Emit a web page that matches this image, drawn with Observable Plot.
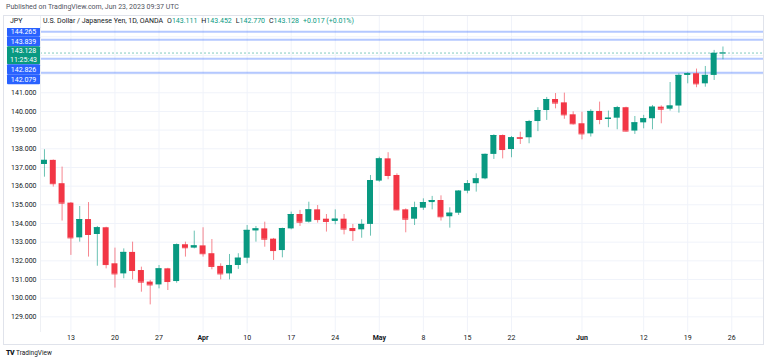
<!DOCTYPE html>
<html><head><meta charset="utf-8">
<script src="https://cdn.jsdelivr.net/npm/d3@7"></script>
<script src="https://cdn.jsdelivr.net/npm/@observablehq/plot@0.6"></script>
<style>
body{margin:0;background:#fff;font-family:Roboto,"Liberation Sans",sans-serif;color:#131722;}
#wrap{position:relative;width:768px;height:364px;overflow:hidden;background:#fff;}
#pub{position:absolute;left:6px;top:3px;font-size:7px;color:#50535e;white-space:nowrap;}
#frame{position:absolute;left:3px;top:15px;width:761px;height:330px;border:1px solid #e0e3eb;box-sizing:border-box;}
#chart{position:absolute;left:0;top:16px;}
#jpy{position:absolute;left:4px;top:16px;width:36px;height:12px;background:#fff;font-size:7px;line-height:10px;padding-left:6px;box-sizing:border-box;}
#legend{position:absolute;left:43px;top:16px;font-size:7px;line-height:10px;white-space:nowrap;}
#legend .v{color:#089981;}
#legend .k{margin-left:4px;}
#foot{position:absolute;left:6px;top:349px;font-size:6.5px;white-space:nowrap;color:#131722;}
#foot b{font-weight:900;letter-spacing:-0.5px;margin-right:2px;font-size:7px;}
</style></head><body><div id="wrap">
<div id="pub">Published on TradingView.com, Jun 23, 2023 09:37 UTC</div>
<div id="frame"></div>
<div id="chart"></div>
<div id="jpy">JPY</div>
<div id="legend">U.S. Dollar / Japanese Yen, 1D, OANDA<span class="k">O</span><span class="v">143.111</span><span class="k">H</span><span class="v">143.452</span><span class="k">L</span><span class="v">142.770</span><span class="k">C</span><span class="v">143.128</span><span class="v" style="margin-left:4px">+0.017 (+0.01%)</span></div>
<div id="foot"><b>TV</b>TradingView</div>
</div>
<script>
const dates = ["2023-03-08","2023-03-09","2023-03-10","2023-03-13","2023-03-14","2023-03-15","2023-03-16","2023-03-17","2023-03-20","2023-03-21","2023-03-22","2023-03-23","2023-03-24","2023-03-27","2023-03-28","2023-03-29","2023-03-30","2023-03-31","2023-04-03","2023-04-04","2023-04-05","2023-04-06","2023-04-07","2023-04-10","2023-04-11","2023-04-12","2023-04-13","2023-04-14","2023-04-17","2023-04-18","2023-04-19","2023-04-20","2023-04-21","2023-04-24","2023-04-25","2023-04-26","2023-04-27","2023-04-28","2023-05-01","2023-05-02","2023-05-03","2023-05-04","2023-05-05","2023-05-08","2023-05-09","2023-05-10","2023-05-11","2023-05-12","2023-05-15","2023-05-16","2023-05-17","2023-05-18","2023-05-19","2023-05-22","2023-05-23","2023-05-24","2023-05-25","2023-05-26","2023-05-29","2023-05-30","2023-05-31","2023-06-01","2023-06-02","2023-06-05","2023-06-06","2023-06-07","2023-06-08","2023-06-09","2023-06-12","2023-06-13","2023-06-14","2023-06-15","2023-06-16","2023-06-19","2023-06-20","2023-06-21","2023-06-22","2023-06-23"];
const open = [137.16,137.38,136.13,135.09,133.23,134.21,133.41,133.77,131.84,131.30,132.45,131.48,130.86,130.71,131.57,130.89,132.86,132.68,132.80,132.38,131.70,131.30,131.75,132.14,133.60,133.71,133.16,132.55,133.71,134.48,134.07,134.73,134.23,134.11,134.23,133.73,133.66,133.95,136.27,137.46,136.57,134.73,134.23,134.82,135.12,135.23,134.36,134.55,135.73,136.13,136.39,137.70,138.71,137.96,138.60,138.59,139.46,140.05,140.64,140.46,139.82,139.34,138.80,140.00,139.57,139.64,140.20,138.95,139.39,139.61,140.23,140.12,140.29,141.93,142.02,141.48,141.93,143.111];
const high = [137.95,137.40,137.02,135.12,134.91,135.12,133.84,133.80,132.68,132.64,133.00,131.66,130.95,131.75,131.60,132.90,133.00,133.59,133.77,133.14,131.84,132.34,132.38,133.89,133.84,134.07,133.20,133.75,134.61,134.70,135.14,134.96,134.48,134.73,134.48,133.95,134.20,136.57,137.55,137.79,136.66,134.78,135.14,135.32,135.45,135.48,134.84,135.76,136.30,136.66,137.72,138.75,138.74,138.66,138.89,139.52,140.20,140.75,140.96,140.98,139.98,139.96,140.09,140.50,140.02,140.27,140.23,139.73,139.79,140.32,140.30,141.55,142.02,142.07,142.27,142.41,143.27,143.452];
const low = [136.48,135.95,134.13,132.29,133.00,132.20,131.71,131.57,130.54,131.04,130.98,130.32,129.64,130.50,130.41,130.80,132.20,132.64,132.20,131.52,130.98,130.98,131.54,131.84,133.00,132.73,132.02,132.16,133.66,133.84,134.02,134.02,133.54,133.93,133.39,133.04,133.21,133.32,136.21,136.34,134.70,133.50,133.89,134.70,134.73,134.13,133.75,134.43,135.59,135.68,136.34,137.43,137.46,137.52,138.23,138.27,138.92,139.52,140.14,139.58,139.27,138.48,138.63,139.29,139.13,139.02,138.90,138.77,139.07,139.02,139.34,140.02,139.91,141.48,141.27,141.30,141.66,142.770];
const close = [137.38,136.13,135.09,133.23,134.21,133.41,133.77,131.80,131.30,132.45,131.48,130.86,130.71,131.57,130.89,132.86,132.70,132.80,132.38,131.70,131.30,131.75,132.14,133.63,133.71,133.16,132.55,133.73,134.48,134.07,134.73,134.21,134.11,134.23,133.70,133.62,133.95,136.30,137.46,136.57,134.73,134.23,134.84,135.12,135.23,134.36,134.55,135.73,136.13,136.39,137.70,138.71,137.96,138.59,138.56,139.46,140.05,140.64,140.45,139.82,139.34,138.80,140.00,139.57,139.64,140.20,138.95,139.39,139.61,140.23,140.12,140.29,141.93,142.02,141.48,141.93,143.111,143.128];

const tickDates = ["2023-03-13","2023-03-20","2023-03-27","2023-04-03","2023-04-10","2023-04-17","2023-04-24","2023-05-01","2023-05-08","2023-05-15","2023-05-22","2023-06-01","2023-06-12","2023-06-19","2023-06-26"];
const tickLabels = ["13","20","27","Apr","10","17","24","May","8","15","22","Jun","12","19","26"];
const priceTicks = [129,130,131,132,133,134,135,136,137,138,139,140,141];
const gridPrices = [129,130,131,132,133,134,135,136,137,138,139,140,141,142,143,144];

const levelPrices = [144.265,143.839,142.826,142.079];
const levelLabels = ["144.265","143.839","142.826","142.079"];
const lastPrice = 143.128;
const lastLabel = "143.128";
const countdown = "11:25:43";

const UP = "#089981", DOWN = "#f23645";

// trading-day index (weekdays) from the first date
const t0 = new Date(dates[0] + "T00:00:00Z");
function tIndex(ds){
  const t = new Date(ds + "T00:00:00Z");
  let n = 0;
  for (let d = new Date(t0); d < t; d.setUTCDate(d.getUTCDate()+1)){
    const wd = d.getUTCDay();
    if (wd !== 0 && wd !== 6) n++;
  }
  return n;
}
const candles = dates.map((d,k)=>({i:tIndex(d), o:open[k], h:high[k], l:low[k], c:close[k], col: close[k]>=open[k]?UP:DOWN}));
const ticks = tickDates.map((d,k)=>({i:tIndex(d), label:tickLabels[k], month: isNaN(+tickLabels[k])}));
const numTicks = ticks.filter(t=>!t.month);
const monTicks = ticks.filter(t=>t.month);
const half = 0.34;

const chart = Plot.plot({
  width: 768, height: 330,
  marginLeft: 40, marginRight: 5, marginTop: 0, marginBottom: 14,
  style: {fontFamily: "Roboto, 'Liberation Sans', sans-serif", background: "transparent", overflow: "visible"},
  x: {type: "linear", domain: [-0.45, 81.6], axis: null, label: null},
  y: {domain: [128, 145], range: [319, 1.6], axis: null, label: null},
  color: {type: "identity"},
  marks: [
    Plot.gridY(gridPrices, {stroke: "#f0f3fa", strokeOpacity: 1}),
    Plot.gridX(ticks.map(t=>t.i), {stroke: "#f0f3fa", strokeOpacity: 1}),
    Plot.axisY(priceTicks, {anchor: "left", label: null, tickSize: 0, tickPadding: 4, tickFormat: d=>d.toFixed(3), fontSize: 7, fill: "#131722"}),
    Plot.axisX(numTicks.map(t=>t.i), {anchor: "bottom", label: null, tickSize: 0, tickPadding: 3, fontSize: 7, fill: "#131722", tickFormat: v => numTicks.find(t=>t.i===v).label}),
    Plot.axisX(monTicks.map(t=>t.i), {anchor: "bottom", label: null, tickSize: 0, tickPadding: 3, fontSize: 7, fontWeight: "bold", fill: "#131722", tickFormat: v => monTicks.find(t=>t.i===v).label}),
    Plot.ruleY(levelPrices, {stroke: "#2962ff", strokeOpacity: 0.35, strokeWidth: 2}),
    Plot.ruleY([lastPrice], {stroke: UP, strokeOpacity: 0.5, strokeDasharray: "2,2"}),
    Plot.ruleX(candles, {x: "i", y1: "l", y2: "h", stroke: "col", strokeOpacity: 0.6}),
    Plot.rect(candles, {x1: d=>d.i-half, x2: d=>d.i+half, y1: d=>Math.min(d.o,d.c), y2: d=>Math.max(d.o,d.c), fill: "col"}),
    Plot.ruleY(candles, {y: "c", x1: d=>d.i-half, x2: d=>d.i+half, stroke: "col"}),
  ]
});
document.getElementById("chart").appendChild(chart);

// price-scale labels, placed with the plot's own y scale and stacked to avoid overlap
const ys = chart.scale("y");
const svg = d3.select(chart);
svg.append("line").attr("x1",40.5).attr("x2",40.5).attr("y1",0).attr("y2",316).attr("stroke","#eef0f4");
let labs = levelPrices.map((p,k)=>({p, text: levelLabels[k], fill: "#2962ff", h: 10}));
labs.push({p: lastPrice, text: lastLabel, sub: countdown, fill: UP, h: 18});
labs.sort((a,b)=>b.p-a.p);
let prevBottom = -Infinity;
for (const L of labs){
  const cy = Math.max(ys.apply(L.p), prevBottom + L.h/2);
  L.cy = cy; prevBottom = cy + L.h/2;
}
const g = svg.append("g").attr("font-size", 7).attr("fill", "#fff").attr("text-anchor", "middle");
for (const L of labs){
  g.append("rect").attr("x", 7).attr("y", L.cy - L.h/2).attr("width", 33).attr("height", L.h).attr("rx", 1).attr("fill", L.fill);
  if (L.sub){
    g.append("text").attr("x", 23.5).attr("y", L.cy - 4.5).attr("dy", "0.35em").attr("fill","#fff").text(L.text);
    g.append("text").attr("x", 23.5).attr("y", L.cy + 4.5).attr("dy", "0.35em").attr("fill","#fff").text(L.sub);
  } else {
    g.append("text").attr("x", 23.5).attr("y", L.cy).attr("dy", "0.35em").attr("fill","#fff").text(L.text);
  }
}
</script>
</body></html>
